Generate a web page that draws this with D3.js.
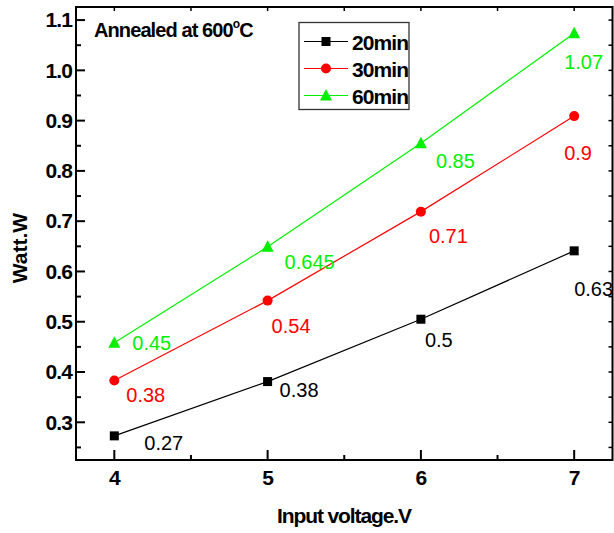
<!DOCTYPE html>
<html>
<head>
<meta charset="utf-8">
<script src="https://cdn.jsdelivr.net/npm/d3@7"></script>
<style>
  html, body { margin: 0; padding: 0; background: #fff; }
  svg { display: block; font-family: Arial, "Liberation Sans", sans-serif; }
</style>
</head>
<body>
<svg id="chart" width="614" height="533"></svg>
<script>
// ---- data ----
const voltages = [4, 5, 6, 7];
const seriesNames = ["20min", "30min", "60min"];
const watt20 = [0.273, 0.381, 0.505, 0.641];
const watt30 = [0.383, 0.542, 0.719, 0.909];
const watt60 = [0.458, 0.649, 0.855, 1.074];
const labels20 = ["0.27", "0.38", "0.5", "0.63"];
const labels30 = ["0.38", "0.54", "0.71", "0.9"];
const labels60 = ["0.45", "0.645", "0.85", "1.07"];
const xTickLabels = ["4", "5", "6", "7"];
const yTickLabels = ["0.3", "0.4", "0.5", "0.6", "0.7", "0.8", "0.9", "1.0", "1.1"];
const xTitle = "Input voltage.V";
const yTitle = "Watt.W";

// ---- layout / style (not data) ----
const colors = ["#000000", "#ff0000", "#00f000"];
const shapes = ["square", "circle", "triangle"];
// label offsets from point: [dx, dy]
const labelOffsets = [
  [[30, 14], [12, 15], [4, 28], [0, 45]],
  [[12, 21], [4, 32], [8, 31], [-10, 44]],
  [[18, 7], [17, 22], [15, 25], [-10, 36]]
];

const svg = d3.select("#chart");
const pL = 76, pR = 612.5, pT = 7, pB = 460;

const x = d3.scaleLinear().domain([3.75, 7.25]).range([pL, pR]);
const y = d3.scaleLinear().domain([0.225, 1.126]).range([pB, pT]);

const series = [watt20, watt30, watt60].map((vals, i) => ({
  name: seriesNames[i],
  color: colors[i],
  shape: shapes[i],
  labels: [labels20, labels30, labels60][i],
  offsets: labelOffsets[i],
  points: voltages.map((v, j) => ({ x: v, y: vals[j] }))
}));

// ---- axes ----
const xMajor = voltages;
const xMinor = [3.5, 4.5, 5.5, 6.5, 7.5].filter(v => v > 3.75 && v < 7.25);
const yMajor = yTickLabels.map(Number);
const yMinor = d3.range(0.25, 1.126, 0.1).map(v => +v.toFixed(2));

// bottom axis
const bx = svg.append("g").attr("transform", `translate(0,${pB})`);
bx.call(d3.axisBottom(x).tickValues(xMajor).tickSize(0).tickFormat((d, i) => xTickLabels[i]))
  .call(g => g.select(".domain").remove())
  .call(g => g.selectAll("text").attr("dy", null).attr("y", 25)
    .style("font-size", "21px").style("font-weight", "bold").style("font-family", "Arial, 'Liberation Sans', sans-serif").attr("fill", "#000"));
bx.append("g").selectAll("line").data(xMajor).join("line").attr("x1", d => x(d)).attr("x2", d => x(d)).attr("y1", 0).attr("y2", -10).attr("stroke", "#000").attr("stroke-width", 2);
bx.append("g").selectAll("line").data(xMinor).join("line").attr("x1", d => x(d)).attr("x2", d => x(d)).attr("y1", 0).attr("y2", -5).attr("stroke", "#000").attr("stroke-width", 2);

// left axis
const ly = svg.append("g").attr("transform", `translate(${pL},0)`);
ly.call(d3.axisLeft(y).tickValues(yMajor).tickSize(0).tickPadding(4).tickFormat((d, i) => yTickLabels[i]))
  .call(g => g.select(".domain").remove())
  .call(g => g.selectAll("text")
    .style("font-size", "21px").style("font-weight", "bold").style("letter-spacing", "-0.9px").style("font-family", "Arial, 'Liberation Sans', sans-serif").attr("fill", "#000"));
ly.append("g").selectAll("line").data(yMajor).join("line").attr("y1", d => y(d)).attr("y2", d => y(d)).attr("x1", 0).attr("x2", 9).attr("stroke", "#000").attr("stroke-width", 2);
ly.append("g").selectAll("line").data(yMinor).join("line").attr("y1", d => y(d)).attr("y2", d => y(d)).attr("x1", 0).attr("x2", 5).attr("stroke", "#000").attr("stroke-width", 2);

// top & right ticks (short, inward)
svg.append("g").selectAll("line").data(xMajor.concat(xMinor)).join("line")
  .attr("x1", d => x(d)).attr("x2", d => x(d)).attr("y1", pT).attr("y2", pT + 4).attr("stroke", "#000").attr("stroke-width", 1.5);
svg.append("g").selectAll("line").data(yMajor.concat(yMinor)).join("line")
  .attr("y1", d => y(d)).attr("y2", d => y(d)).attr("x1", pR).attr("x2", pR - 4).attr("stroke", "#000").attr("stroke-width", 1.5);

// frame
svg.append("rect").attr("x", pL).attr("y", pT).attr("width", pR - pL).attr("height", pB - pT)
  .attr("fill", "none").attr("stroke", "#000").attr("stroke-width", 2);

// ---- series ----
const line = d3.line().x(d => x(d.x)).y(d => y(d.y));
function drawMarker(g, shape, color, cx, cy) {
  if (shape === "square") {
    g.append("rect").attr("x", cx - 4.5).attr("y", cy - 4.5).attr("width", 9).attr("height", 9).attr("fill", color);
  } else if (shape === "circle") {
    g.append("circle").attr("cx", cx).attr("cy", cy).attr("r", 5).attr("fill", color);
  } else {
    g.append("path").attr("d", `M${cx},${cy - 6.5}L${cx + 6},${cy + 5}L${cx - 6},${cy + 5}Z`).attr("fill", color);
  }
}

series.forEach(s => {
  const g = svg.append("g");
  g.append("path").datum(s.points).attr("d", line).attr("fill", "none").attr("stroke", s.color).attr("stroke-width", 1.2);
  s.points.forEach(p => drawMarker(g, s.shape, s.color, x(p.x), y(p.y)));
  g.selectAll("text").data(s.points).join("text")
    .attr("x", (d, j) => x(d.x) + s.offsets[j][0])
    .attr("y", (d, j) => y(d.y) + s.offsets[j][1])
    .attr("fill", s.color)
    .style("font-size", "20px")
    .text((d, j) => s.labels[j]);
});

// ---- legend ----
const lg = svg.append("g");
lg.append("rect").attr("x", 299).attr("y", 22.5).attr("width", 110).attr("height", 87)
  .attr("fill", "#fff").attr("stroke", "#333").attr("stroke-width", 1.3);
series.forEach((s, i) => {
  const cy = 41.5 + i * 27;
  lg.append("line").attr("x1", 304).attr("x2", 348).attr("y1", cy).attr("y2", cy).attr("stroke", s.color).attr("stroke-width", 1.2);
  drawMarker(lg, s.shape, s.color, 326, cy);
  lg.append("text").attr("x", 352).attr("y", cy + 8)
    .style("font-size", "21px").style("font-weight", "bold").style("letter-spacing", "-0.9px")
    .text(s.name);
});

// ---- annotation ----
const ann = svg.append("text").attr("x", 94).attr("y", 37)
  .style("font-size", "20px").style("font-weight", "bold").style("letter-spacing", "-0.9px");
ann.append("tspan").text("Annealed at 600");
ann.append("tspan").attr("dy", -9).style("font-size", "12px").text("o");
ann.append("tspan").attr("dy", 9).text("C");

// ---- titles ----
svg.append("text").attr("x", 344).attr("y", 523).attr("text-anchor", "middle")
  .style("font-size", "21px").style("font-weight", "bold").style("letter-spacing", "-1.1px")
  .text(xTitle);
svg.append("text").attr("transform", "translate(27,248) rotate(-90)").attr("text-anchor", "middle")
  .style("font-size", "21px").style("font-weight", "bold")
  .text(yTitle);
</script>
</body>
</html>
